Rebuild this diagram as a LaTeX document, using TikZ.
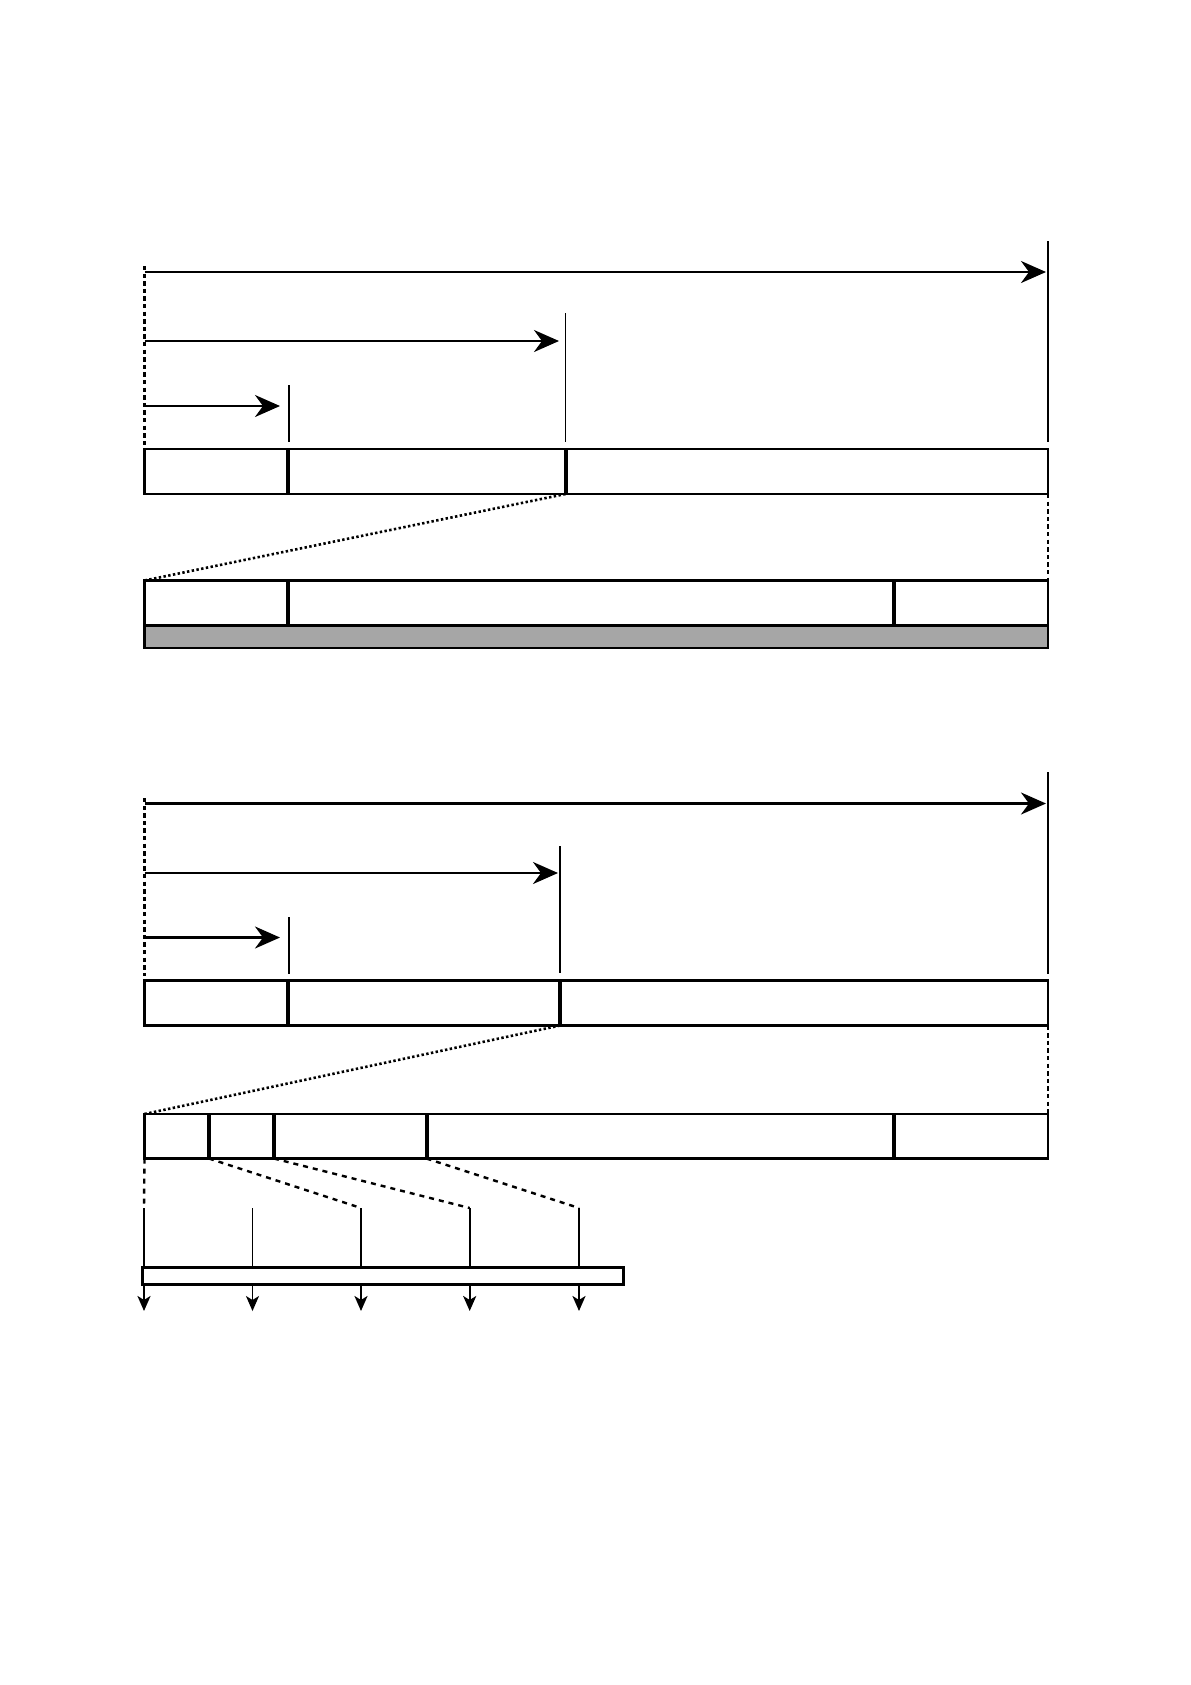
\documentclass[tikz,border=0pt]{standalone}
\usetikzlibrary{arrows.meta}
\definecolor{bargray}{HTML}{A6A6A6}
\begin{document}
\begin{tikzpicture}[x=0.5bp,y=-0.5bp,
  boxline/.style={line width=1.25bp},
  divline/.style={line width=2bp},
  arr/.style={line width=1.2bp,-{Stealth[length=12.5bp,width=11bp,inset=4bp]}},
  smallarr/.style={line width=1.2bp,-{Stealth[length=7.5bp,width=6.5bp,inset=2bp]}},
  thinline/.style={line width=0.7bp},
  midline/.style={line width=1.2bp},
  dotline/.style={line width=1.3bp,dash pattern=on 1.2bp off 1.2bp},
  dashline/.style={line width=1.2bp,dash pattern=on 2.5bp off 2.5bp},
  vdash/.style={line width=1.2bp,dash pattern=on 2.2bp off 1.6bp}]
\useasboundingbox (0,0) rectangle (1191,1685);

%% ================= TOP SECTION =================
\coordinate (A0) at (144.5,272);
\coordinate (A1) at (1046,272);
\coordinate (B0) at (144.5,341);
\coordinate (B1) at (559,341);
\coordinate (C0) at (144.5,406);
\coordinate (C1) at (280,406);
\coordinate (Ltop) at (144.5,266);
\coordinate (Lbot) at (144.5,446);
\coordinate (Rtop) at (1048,241);
\coordinate (Rbot) at (1048,442);
\coordinate (Mtop) at (565.5,313);
\coordinate (Mbot) at (565.5,442);
\coordinate (Stop) at (289,385);
\coordinate (Sbot) at (289,442);
\draw[vdash] (Ltop) -- (Lbot);
\draw[midline] (Rtop) -- (Rbot);
\draw[thinline] (Mtop) -- (Mbot);
\draw[midline] (Stop) -- (Sbot);
\draw[arr] (A0) -- (A1);
\draw[arr] (B0) -- (B1);
\draw[arr] (C0) -- (C1);
% row 1
\coordinate (r1nw) at (144.5,449);
\coordinate (r1se) at (1048,494);
\draw[boxline] (r1nw) rectangle (r1se);
\coordinate (d11t) at (288,449); \coordinate (d11b) at (288,494);
\coordinate (d12t) at (565.5,449); \coordinate (d12b) at (565.5,494);
\draw[divline] (d11t) -- (d11b);
\draw[divline] (d12t) -- (d12b);
% row 2
\coordinate (r2nw) at (144.5,580.5);
\coordinate (r2se) at (1048,625.5);
\coordinate (r2ne) at (1048,580.5);
\coordinate (g1) at (1048,648);
\coordinate (g0) at (144.5,625.5);
\fill[bargray] (g0) rectangle (g1);
\draw[boxline] (r2nw) rectangle (g1);
\draw[boxline] (g0) -- (r2se);
\coordinate (d21t) at (288,580.5); \coordinate (d21b) at (288,625.5);
\coordinate (d22t) at (894,580.5); \coordinate (d22b) at (894,625.5);
\draw[divline] (d21t) -- (d21b);
\draw[divline] (d22t) -- (d22b);
% zoom connectors
\coordinate (r1se2) at (1048,494);
\draw[dotline] (d12b) -- (r2nw);
\draw[vdash] (r1se2) -- (r2ne);

%% ================= BOTTOM SECTION =================
\coordinate (E0) at (144.5,803.5);
\coordinate (E1) at (1046,803.5);
\coordinate (F0) at (144.5,873);
\coordinate (F1) at (558,873);
\coordinate (G0) at (144.5,937.5);
\coordinate (G1) at (280,937.5);
\coordinate (LLtop) at (144.5,798);
\coordinate (LLbot) at (144.5,976);
\coordinate (RRtop) at (1048,772);
\coordinate (RRbot) at (1048,974);
\coordinate (MMtop) at (560,846);
\coordinate (MMbot) at (560,973);
\coordinate (SStop) at (289,917);
\coordinate (SSbot) at (289,974);
\draw[vdash] (LLtop) -- (LLbot);
\draw[midline] (RRtop) -- (RRbot);
\draw[midline] (MMtop) -- (MMbot);
\draw[midline] (SStop) -- (SSbot);
\draw[arr] (E0) -- (E1);
\draw[arr] (F0) -- (F1);
\draw[arr] (G0) -- (G1);
% row 1
\coordinate (q1nw) at (144.5,980.5);
\coordinate (q1se) at (1048,1025.5);
\draw[boxline] (q1nw) rectangle (q1se);
\coordinate (e11t) at (288,980.5); \coordinate (e11b) at (288,1025.5);
\coordinate (e12t) at (560,980.5); \coordinate (e12b) at (560,1025.5);
\draw[divline] (e11t) -- (e11b);
\draw[divline] (e12t) -- (e12b);
% row 2
\coordinate (q2nw) at (144.5,1114);
\coordinate (q2ne) at (1048,1114);
\coordinate (q2se) at (1048,1158.5);
\coordinate (q2sw) at (144.5,1158.5);
\draw[boxline] (q2nw) rectangle (q2se);
\coordinate (e21t) at (209,1114);   \coordinate (e21b) at (209,1158.5);
\coordinate (e22t) at (274,1114);   \coordinate (e22b) at (274,1158.5);
\coordinate (e23t) at (426.5,1114); \coordinate (e23b) at (426.5,1158.5);
\coordinate (e24t) at (894,1114);   \coordinate (e24b) at (894,1158.5);
\draw[divline] (e21t) -- (e21b);
\draw[divline] (e22t) -- (e22b);
\draw[divline] (e23t) -- (e23b);
\draw[divline] (e24t) -- (e24b);
% zoom connectors
\coordinate (q1se2) at (1048,1025.5);
\draw[dotline] (e12b) -- (q2nw);
\draw[vdash] (q1se2) -- (q2ne);

% lower expansion
\coordinate (v0t) at (144,1208);   \coordinate (v0b) at (144,1267.5);
\coordinate (v1t) at (252.5,1208); \coordinate (v1b) at (252.5,1267.5);
\coordinate (v2t) at (361,1208);   \coordinate (v2b) at (361,1267.5);
\coordinate (v3t) at (469.7,1208); \coordinate (v3b) at (469.7,1267.5);
\coordinate (v4t) at (579,1208);   \coordinate (v4b) at (579,1267.5);
\draw[dashline] (q2sw) -- (v0t);
\draw[dashline] (e21b) -- (v2t);
\draw[dashline] (e22b) -- (v3t);
\draw[dashline] (e23b) -- (v4t);
\draw[midline] (v0t) -- (v0b);
\draw[thinline] (v1t) -- (v1b);
\draw[midline] (v2t) -- (v2b);
\draw[midline] (v3t) -- (v3b);
\draw[midline] (v4t) -- (v4b);
% bar
\coordinate (barnw) at (142.5,1267.5);
\coordinate (barse) at (623.5,1284.5);
\draw[boxline] (barnw) rectangle (barse);
% output arrows
\coordinate (w0t) at (144,1284.5);   \coordinate (w0b) at (144,1311);
\coordinate (w1t) at (252.5,1284.5); \coordinate (w1b) at (252.5,1311);
\coordinate (w2t) at (361,1284.5);   \coordinate (w2b) at (361,1311);
\coordinate (w3t) at (469.7,1284.5); \coordinate (w3b) at (469.7,1311);
\coordinate (w4t) at (579,1284.5);   \coordinate (w4b) at (579,1311);
\draw[smallarr] (w0t) -- (w0b);
\draw[smallarr,line width=0.7bp] (w1t) -- (w1b);
\draw[smallarr] (w2t) -- (w2b);
\draw[smallarr] (w3t) -- (w3b);
\draw[smallarr] (w4t) -- (w4b);
\end{tikzpicture}
\end{document}
